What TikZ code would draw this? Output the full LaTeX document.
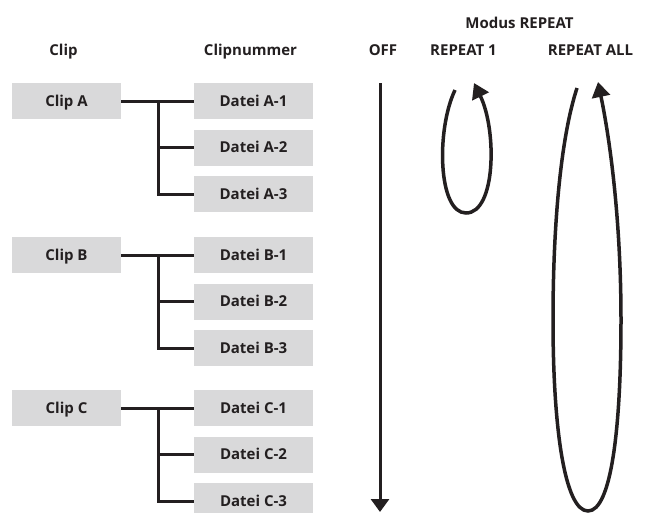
\documentclass[tikz,border=0pt]{standalone}
\usepackage{fontspec}
\setmainfont{Open Sans}
\usetikzlibrary{arrows.meta}
\definecolor{boxgray}{RGB}{217,217,218}
\definecolor{ink}{RGB}{35,31,32}
\begin{document}
\begin{tikzpicture}[x=1pt,y=-1pt,
  every node/.style={font=\fontsize{15}{17}\selectfont\bfseries, text=ink, inner sep=0pt},
  clipbox/.style={fill=boxgray, minimum width=109pt, minimum height=36pt, text height=10.7pt, text depth=0pt},
  filebox/.style={fill=boxgray, minimum width=119pt, minimum height=36pt, text height=10.7pt, text depth=0pt},
  header/.style={anchor=base},
  tree/.style={draw=ink, line width=3pt},
  flow/.style={draw=ink, line width=3pt, -{Triangle[length=13pt,width=18pt]}},
  loop/.style={draw=ink, line width=3.5pt, -{Triangle[length=15pt,width=18pt]}}]
\useasboundingbox (0,0) rectangle (651,512);

% column headings
\node[header] (hmodus) at (519.5,28) {Modus REPEAT};
\node[header] (hclip) at (63.5,55) {Clip};
\node[header] (hnum) at (250.5,55) {Clipnummer};
\node[header] (hoff) at (383,55) {OFF};
\node[header] (hrep1) at (463.5,55) {REPEAT 1};
\node[header] (hrepall) at (590.5,55) {REPEAT ALL};

% clips and their files
\foreach \g/\y in {A/101, B/255, C/408} {
  \node[clipbox] (clip\g) at (66.5,\y) {Clip \g};
  \node[filebox] (f\g1) at (253.5,\y) {Datei \g-1};
  \node[filebox] (f\g2) at (253.5,\y+46.5) {Datei \g-2};
  \node[filebox] (f\g3) at (253.5,\y+93) {Datei \g-3};
  \coordinate (j\g) at (158,\y);
  \draw[tree] (clip\g.east) -- (f\g1.west);
  \draw[tree] (j\g) |- (f\g3.west);
  \draw[tree] (j\g |- f\g2.west) -- (f\g2.west);
}

% OFF: straight run from first to last file
\coordinate (offtop) at (380,83);
\coordinate (offend) at (380,512);
\draw[flow] (offtop) -- (offend);

% REPEAT 1: loop over one file
\coordinate (r1start) at (455,90);
\coordinate (r1low) at (466,213);
\coordinate (r1tip) at (474,83);
\draw[loop] (r1start) .. controls (436,130) and (438,213) .. (r1low)
  .. controls (496,213) and (497,130) .. (r1tip);

% REPEAT ALL: loop over all files
\coordinate (rastart) at (577,88);
\coordinate (raleft) at (553,320);
\coordinate (ralow) at (588,511);
\coordinate (raright) at (621,320);
\coordinate (ratip) at (598,82);
\draw[loop] (rastart) .. controls (560,140) and (553,230) .. (raleft)
  .. controls (553,430) and (565,511) .. (ralow)
  .. controls (611,511) and (621,430) .. (raright)
  .. controls (621,220) and (610,140) .. (ratip);
\end{tikzpicture}
\end{document}
